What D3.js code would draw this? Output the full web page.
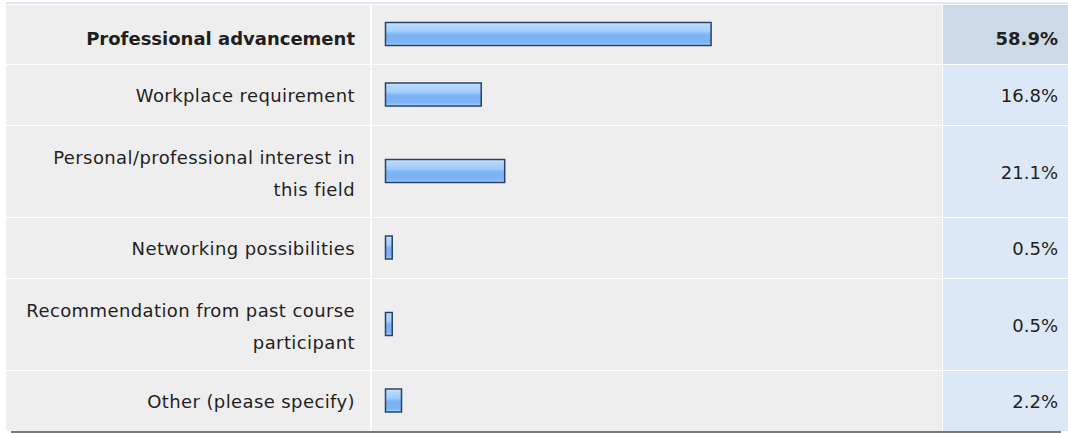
<!DOCTYPE html>
<html>
<head>
<meta charset="utf-8">
<script src="https://cdn.jsdelivr.net/npm/d3@7"></script>
<style>
  body { margin: 0; background: #ffffff; }
  svg { display: block; }
  text { font-family: "DejaVu Sans", sans-serif; font-size: 18px; fill: #1f1f1f; }
  text.lbl { letter-spacing: 0.4px; }
  text.lbl.top { letter-spacing: 0; }
</style>
</head>
<body>
<svg id="chart" width="1068" height="433"></svg>
<script>
// answer labels, split where the original wraps
var categories = [
    ["Professional advancement"],
    ["Workplace requirement"],
    ["Personal/professional interest in", "this field"],
    ["Networking possibilities"],
    ["Recommendation from past course", "participant"],
    ["Other (please specify)"]
];
var percents = [58.9, 16.8, 21.1, 0.5, 0.5, 2.2];
var pctLabels = ["58.9%", "16.8%", "21.1%", "0.5%", "0.5%", "2.2%"];
var topIndex = 0; // the highlighted (bold) answer

var svg = d3.select("#chart");

var left = 6, labelRight = 370, barLeft = 372, pctLeft = 943, right = 1068;
var top0 = 5;

// row heights depend on how many lines the label has
var rowH = categories.map(function(c) { return c.length > 1 ? 92 : 61; });
rowH[0] = 60;
var rowY = [];
var acc = top0;
rowH.forEach(function(h) { rowY.push(acc); acc += h; });

var x = d3.scaleLinear().domain([0, 100]).range([0, 546]);

var defs = svg.append("defs");
var grad = defs.append("linearGradient").attr("id", "barGrad")
    .attr("x1", 0).attr("y1", 0).attr("x2", 0).attr("y2", 1);
[[0, "#d3e9ff"], [0.12, "#b4d8fd"], [0.4, "#a2cdfb"], [0.48, "#88bcf6"],
 [0.56, "#7bb2f3"], [0.85, "#7cb4f4"], [1, "#a9d1fa"]].forEach(function(s) {
    grad.append("stop").attr("offset", s[0]).attr("stop-color", s[1]);
});

// top light line
svg.append("rect").attr("x", left).attr("y", 2).attr("width", right - left).attr("height", 2)
    .attr("fill", "#dfe8f3");

var rows = svg.selectAll("g.row").data(categories).enter().append("g")
    .attr("class", "row")
    .attr("transform", function(d, i) { return "translate(0," + rowY[i] + ")"; });

// label + bar cells
rows.append("rect").attr("x", left).attr("y", 0)
    .attr("width", labelRight - left).attr("height", function(d, i) { return rowH[i] - 1; })
    .attr("fill", "#eeeeee");
rows.append("rect").attr("x", barLeft).attr("y", 0)
    .attr("width", pctLeft - barLeft - 1).attr("height", function(d, i) { return rowH[i] - 1; })
    .attr("fill", "#eeeeee");
rows.append("rect").attr("x", pctLeft).attr("y", 0)
    .attr("width", right - pctLeft).attr("height", function(d, i) { return rowH[i] - 1; })
    .attr("fill", function(d, i) { return i === topIndex ? "#cdd9e6" : "#dce8f6"; });

// labels
rows.each(function(d, i) {
    var g = d3.select(this);
    var mid = (rowH[i] - 1) / 2;
    var lineGap = 32;
    var shift = i === topIndex ? 10 : (d.length > 1 ? 8 : 7);
    d.forEach(function(line, j) {
        var cy = mid + (j - (d.length - 1) / 2) * lineGap;
        g.append("text")
            .attr("class", i === topIndex ? "lbl top" : "lbl")
            .attr("x", 355).attr("y", cy + shift)
            .attr("text-anchor", "end")
            .style("font-weight", i === topIndex ? "bold" : "normal")
            .text(line);
    });
    g.append("text")
        .attr("x", 1058).attr("y", mid + (i === topIndex ? 10 : 7))
        .attr("text-anchor", "end")
        .style("font-weight", i === topIndex ? "bold" : "normal")
        .text(pctLabels[i]);
});

// bars
rows.append("rect")
    .attr("x", 385.5)
    .attr("y", function(d, i) { return (rowH[i] - 1) / 2 - 12; })
    .attr("width", function(d, i) { return 4 + x(percents[i]); })
    .attr("height", 23)
    .attr("fill", "url(#barGrad)")
    .attr("stroke", "#2a4168")
    .attr("stroke-width", 1.5);

// bottom rule
svg.append("rect").attr("x", 11).attr("y", 431).attr("width", 1050).attr("height", 2)
    .attr("fill", "#7a7a7a");
</script>
</body>
</html>
